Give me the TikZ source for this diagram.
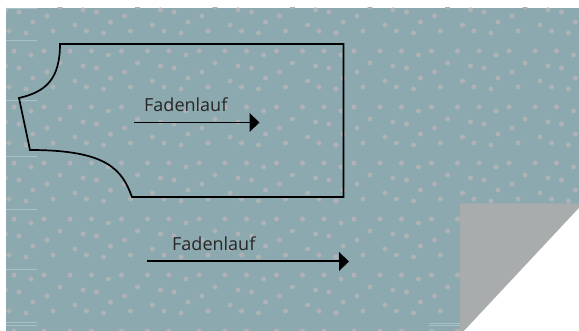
\documentclass[tikz,border=0pt]{standalone}
\usepackage{fontspec}
\setmainfont{Open Sans}
\definecolor{fabric}{HTML}{8BA9AF}
\definecolor{dotc}{HTML}{AEB2B4}
\definecolor{foldc}{HTML}{A9ACAC}
\definecolor{seam}{HTML}{A8C1C6}
\tikzset{
  dotmark/.style={fill=dotc,draw=none},
  outline/.style={draw=black,line width=1.7pt,line join=miter},
  grain/.style={draw=black,line width=1.7pt},
  tip/.style={fill=black,draw=none},
  lbl/.style={text=black!85,font=\fontsize{18}{20}\selectfont,inner sep=0pt,anchor=base west},
  seamline/.style={draw=seam,line width=0.7pt}
}
\begin{document}
\begin{tikzpicture}[x=1pt,y=-1pt]
\useasboundingbox (0,0) rectangle (579,331);
\fill[white] (0,0) rectangle (579,331);
\begin{scope}
\clip (6,8) rectangle (579,331);
\fill[fabric] (6,8) rectangle (579,331);
\foreach \i in {-1,...,7}{
 \foreach \j in {-1,...,5}{
  \foreach \px/\py in {19/12,47/16,33/22,9/31,26/33,53/31,75/25,5.5/10,60/7,14/51,31/55,44/51,70/51}{
   \fill[dotmark] ({\px+77.5*\i},{\py+56*\j}) circle[radius=2.6pt];
  }
 }
}
\end{scope}
\foreach \sy in {8.5,40,100,156,209,269,322,325.5}{
  \draw[seamline] (6,\sy) -- (37,\sy);
}
\draw[seamline] (429,323) -- (460,323);
\draw[seamline] (429,325.5) -- (460,325.5);
\fill[foldc] (460,203.5) -- (579,203.5) -- (579,208) -- (464,331) -- (460,331) -- cycle;
\fill[white] (579,208) -- (579,331) -- (464,331) -- cycle;
\draw[outline] (60,44) -- (343.5,44) -- (343.5,197) -- (132,197)
  .. controls (122,170) and (108,150) .. (30,150)
  -- (19,98)
  .. controls (45,92) and (60,80) .. (60,44) -- cycle;
\node[lbl] (t1) at (144,112) {Fadenlauf};
\node[lbl] (t2) at (172,251) {Fadenlauf};
\coordinate (a1) at (134,122.5);
\coordinate (b1) at (250,122.5);
\coordinate (a2) at (147,261);
\coordinate (b2) at (340,261);
\draw[grain] (a1) -- (b1);
\fill[tip] (249.5,113) -- (259.5,122.5) -- (249.5,132) -- cycle;
\draw[grain] (a2) -- (b2);
\fill[tip] (339,252) -- (349,261.5) -- (339,271) -- cycle;
\end{tikzpicture}
\end{document}
